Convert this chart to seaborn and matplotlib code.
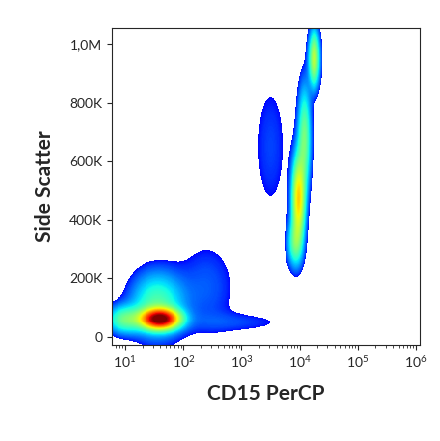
import numpy as np
import matplotlib.pyplot as plt
import matplotlib.colors as mcolors
import seaborn as sns

# Populations: centre (log10 CD15, SSC in K), spread, weight
pop_names = ['core', 'blob', 'left', 'tail', 'band_bot', 'band_low', 'band_mid', 'band_top', 'cloud', 'floor']
pop_logx = [1.60, 1.55, 1.00, 2.40, 3.92, 3.98, 4.08, 4.25, 3.50, 3.00]
pop_ssc = [62, 110, 60, 170, 320, 470, 680, 950, 650, 50]
pop_sx = [0.20, 0.28, 0.20, 0.35, 0.08, 0.07, 0.07, 0.06, 0.22, 0.60]
pop_sy = [22, 70, 30, 110, 50, 90, 110, 60, 180, 25]
pop_w = [1.0, 0.18, 0.20, 0.035, 0.18, 0.45, 0.22, 0.32, 0.028, 0.025]

y_ticks = [0, 200, 400, 600, 800, 1000]
y_labels = ['0', '200K', '400K', '600K', '800K', '1,0M']
x_ticks = [1e1, 1e2, 1e3, 1e4, 1e5, 1e6]

sns.set_style('ticks')
plt.rcParams['font.family'] = ['Lato', 'DejaVu Sans']

gx = np.linspace(0.78, 6.07, 320)
gy = np.linspace(-27, 1055, 320)
X, Y = np.meshgrid(gx, gy)
D = np.zeros_like(X)
for lx, sy_c, sx, sy, w in zip(pop_logx, pop_ssc, pop_sx, pop_sy, pop_w):
    D += w * np.exp(-0.5 * (((X - lx) / sx) ** 2 + ((Y - sy_c) / sy) ** 2))
D = np.ma.masked_less(D, 0.018)

cmap = mcolors.LinearSegmentedColormap.from_list('fc', plt.cm.jet(np.linspace(0.12, 1.0, 256)))

fig = plt.figure(figsize=(4.4, 4.41), dpi=100)
ax = fig.add_axes([0.255, 0.218, 0.70, 0.719])
ax.pcolormesh(10 ** gx, gy, D, cmap=cmap, norm=mcolors.PowerNorm(0.55, 0.018, 1.0), shading='auto', rasterized=True)
ax.set_xscale('log')
ax.set_xlim(10 ** 0.78, 10 ** 6.07)
ax.set_ylim(-27, 1055)
ax.set_xticks(x_ticks)
ax.set_yticks(y_ticks)
ax.set_yticklabels(y_labels)
ax.tick_params(labelsize=10)
ax.set_xlabel('CD15 PerCP', fontsize=15, fontweight='bold', labelpad=10)
ax.set_ylabel('Side Scatter', fontsize=15, fontweight='bold', labelpad=10)
for s in ax.spines.values():
    s.set_linewidth(0.8)

fig.savefig('out.png', dpi=100, facecolor='white')
